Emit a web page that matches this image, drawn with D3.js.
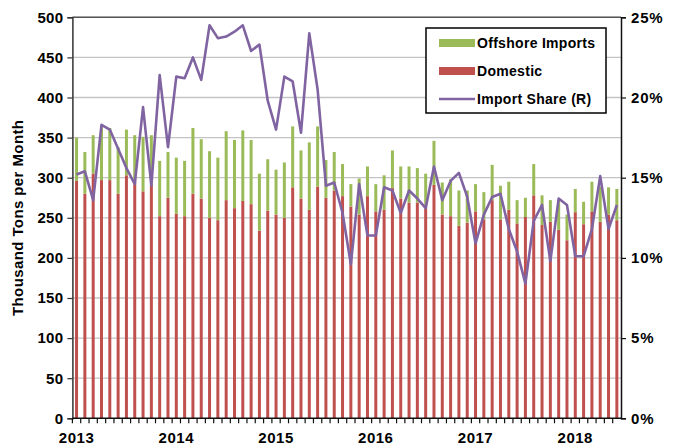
<!DOCTYPE html>
<html>
<head>
<meta charset="utf-8">
<script src="https://cdn.jsdelivr.net/npm/d3@7"></script>
<style>
  body { margin: 0; background: #fff; }
  svg text { font-family: "Liberation Sans", Arial, sans-serif; font-weight: bold; fill: #000; }
</style>
</head>
<body>
<svg id="chart" width="686" height="446"></svg>
<script>
// monthly, Jan 2013 .. Jun 2018
const months = d3.timeMonth.range(new Date(2013, 0, 1), new Date(2018, 6, 1));
const years = [2013, 2014, 2015, 2016, 2017, 2018];

// thousand tons per month
const domestic = [
  296, 280, 305, 297, 297, 280, 303, 295, 283, 291, 252, 275,
  255, 252, 280, 274, 250, 247, 272, 262, 271, 267, 234, 259,
  254, 250, 288, 274, 260, 289, 275, 284, 277, 264, 254, 277,
  258, 260, 287, 274, 269, 269, 261, 291, 254, 252, 240, 244,
  258, 248, 272, 248, 260, 243, 251, 278, 241, 245, 235, 222,
  257, 242, 258, 245, 254, 247
];
const offshore = [
  54, 52, 48, 66, 65, 58, 57, 58, 68, 62, 69, 57,
  70, 69, 82, 74, 83, 78, 86, 85, 88, 80, 71, 64,
  56, 69, 76, 60, 84, 75, 47, 48, 40, 28, 45, 37,
  34, 43, 47, 40, 45, 43, 44, 55, 40, 46, 44, 40,
  34, 34, 44, 42, 35, 29, 24, 39, 37, 27, 37, 32,
  29, 28, 37, 44, 34, 39
];
// import share, percent (right axis)
const importShare = [
  15.2, 15.4, 13.6, 18.3, 18.0, 16.8, 15.6, 14.6, 19.4, 14.5, 21.4, 16.9,
  21.3, 21.2, 22.5, 21.1, 24.5, 23.7, 23.8, 24.1, 24.5, 22.9, 23.3, 19.8,
  18.0, 21.3, 21.0, 17.8, 24.0, 20.5, 14.5, 14.7, 12.8, 9.6, 14.6, 11.4,
  11.4, 14.4, 14.2, 12.8, 14.2, 13.7, 13.1, 15.7, 13.6, 14.8, 15.3, 13.8,
  10.9, 12.7, 13.8, 14.0, 11.8, 10.4, 8.4, 12.3, 13.3, 9.8, 13.7, 13.3,
  10.1, 10.1, 11.8, 15.1, 11.8, 13.3
];

const leftTicks = [0, 50, 100, 150, 200, 250, 300, 350, 400, 450, 500];
const rightTicks = [0, 5, 10, 15, 20, 25];

const colors = { offshore: "#9bbb59", domestic: "#c0504d", share: "#8064a2" };

const plotL = 72.4, plotR = 621, plotT = 17.3, plotB = 418.3;

const svg = d3.select("#chart");

const x = d3.scaleBand()
  .domain(months)
  .range([plotL, plotR])
  .paddingInner(0.64)
  .paddingOuter(0.32);

const y = d3.scaleLinear().domain([0, 500]).range([plotB, plotT]);
const yR = d3.scaleLinear().domain([0, 25]).range([plotB, plotT]);

// gridlines
svg.append("g")
  .selectAll("line")
  .data(leftTicks.slice(1))
  .join("line")
  .attr("x1", plotL).attr("x2", plotR)
  .attr("y1", d => y(d)).attr("y2", d => y(d))
  .attr("stroke", "#c4c4c4")
  .attr("stroke-width", 1.3);

// stacked bars
const rows = months.map((m, i) => ({ m, dom: domestic[i], off: offshore[i], share: importShare[i] }));

svg.append("g")
  .selectAll("rect")
  .data(rows)
  .join("rect")
  .attr("x", d => x(d.m))
  .attr("width", x.bandwidth())
  .attr("y", d => y(d.dom))
  .attr("height", d => y(0) - y(d.dom))
  .attr("fill", colors.domestic);

svg.append("g")
  .selectAll("rect")
  .data(rows)
  .join("rect")
  .attr("x", d => x(d.m))
  .attr("width", x.bandwidth())
  .attr("y", d => y(d.dom + d.off))
  .attr("height", d => y(d.dom) - y(d.dom + d.off))
  .attr("fill", colors.offshore);

// import share line
const line = d3.line()
  .x(d => x(d.m) + x.bandwidth() / 2)
  .y(d => yR(d.share));

svg.append("path")
  .datum(rows)
  .attr("d", line)
  .attr("fill", "none")
  .attr("stroke", colors.share)
  .attr("stroke-width", 2.6)
  .attr("stroke-linejoin", "round");

// frame: top border
svg.append("line")
  .attr("x1", plotL).attr("x2", plotR)
  .attr("y1", plotT).attr("y2", plotT)
  .attr("stroke", "#555").attr("stroke-width", 1.5);

// left axis
const yAxis = svg.append("g")
  .attr("transform", `translate(${plotL},0)`)
  .call(d3.axisLeft(y).tickValues(leftTicks).tickSize(5).tickPadding(4));
yAxis.select(".domain").attr("stroke", "#333").attr("stroke-width", 1.5);
yAxis.selectAll(".tick line").attr("stroke", "#333").attr("stroke-width", 1.2);
yAxis.selectAll("text").attr("font-size", 15).attr("letter-spacing", 0.3).attr("fill", "#000");

// right axis
const yAxisR = svg.append("g")
  .attr("transform", `translate(${plotR},0)`)
  .call(d3.axisRight(yR).tickValues(rightTicks).tickSize(5).tickPadding(5).tickFormat(d => d + "%"));
yAxisR.select(".domain").attr("stroke", "#111").attr("stroke-width", 1.5);
yAxisR.selectAll(".tick line").attr("stroke", "#111").attr("stroke-width", 1.2);
yAxisR.selectAll("text").attr("font-size", 15).attr("letter-spacing", 0.8).attr("fill", "#000");

// bottom axis: month ticks at band boundaries
const step = x.step();
svg.append("line")
  .attr("x1", plotL).attr("x2", plotR)
  .attr("y1", plotB).attr("y2", plotB)
  .attr("stroke", "#111").attr("stroke-width", 1.5);

svg.append("g")
  .selectAll("line")
  .data(months)
  .join("line")
  .attr("x1", d => x(d) + x.bandwidth() / 2 - step / 2)
  .attr("x2", d => x(d) + x.bandwidth() / 2 - step / 2)
  .attr("y1", plotB).attr("y2", plotB + 5)
  .attr("stroke", "#111").attr("stroke-width", 1.2);

svg.append("g")
  .selectAll("text")
  .data(years)
  .join("text")
  .attr("x", d => x(new Date(d, 0, 1)) + x.bandwidth() / 2)
  .attr("y", 443)
  .attr("text-anchor", "middle")
  .attr("font-size", 15)
  .attr("letter-spacing", 0.5)
  .text(d => d);

// y axis title
svg.append("text")
  .attr("transform", `translate(23,${(plotT + plotB) / 2}) rotate(-90)`)
  .attr("text-anchor", "middle")
  .attr("font-size", 15)
  .attr("letter-spacing", 0.4)
  .text("Thousand Tons per Month");

// legend
const legend = svg.append("g").attr("transform", "translate(426,28)");
legend.append("rect")
  .attr("width", 180).attr("height", 85)
  .attr("fill", "#fff").attr("stroke", "#000").attr("stroke-width", 1.5);

const legendItems = [
  { label: "Offshore Imports", color: colors.offshore, type: "bar" },
  { label: "Domestic", color: colors.domestic, type: "bar" },
  { label: "Import Share (R)", color: colors.share, type: "line" }
];

legendItems.forEach((d, i) => {
  const gy = 15 + i * 28;
  if (d.type === "bar") {
    legend.append("rect")
      .attr("x", 13).attr("y", gy - 4)
      .attr("width", 36).attr("height", 8)
      .attr("fill", d.color);
  } else {
    legend.append("line")
      .attr("x1", 13).attr("x2", 49)
      .attr("y1", gy).attr("y2", gy)
      .attr("stroke", d.color).attr("stroke-width", 2.6);
  }
  legend.append("text")
    .attr("x", 51).attr("y", gy)
    .attr("dy", "0.36em")
    .attr("font-size", 14)
    .attr("letter-spacing", 0.3)
    .text(d.label);
});
</script>
</body>
</html>
